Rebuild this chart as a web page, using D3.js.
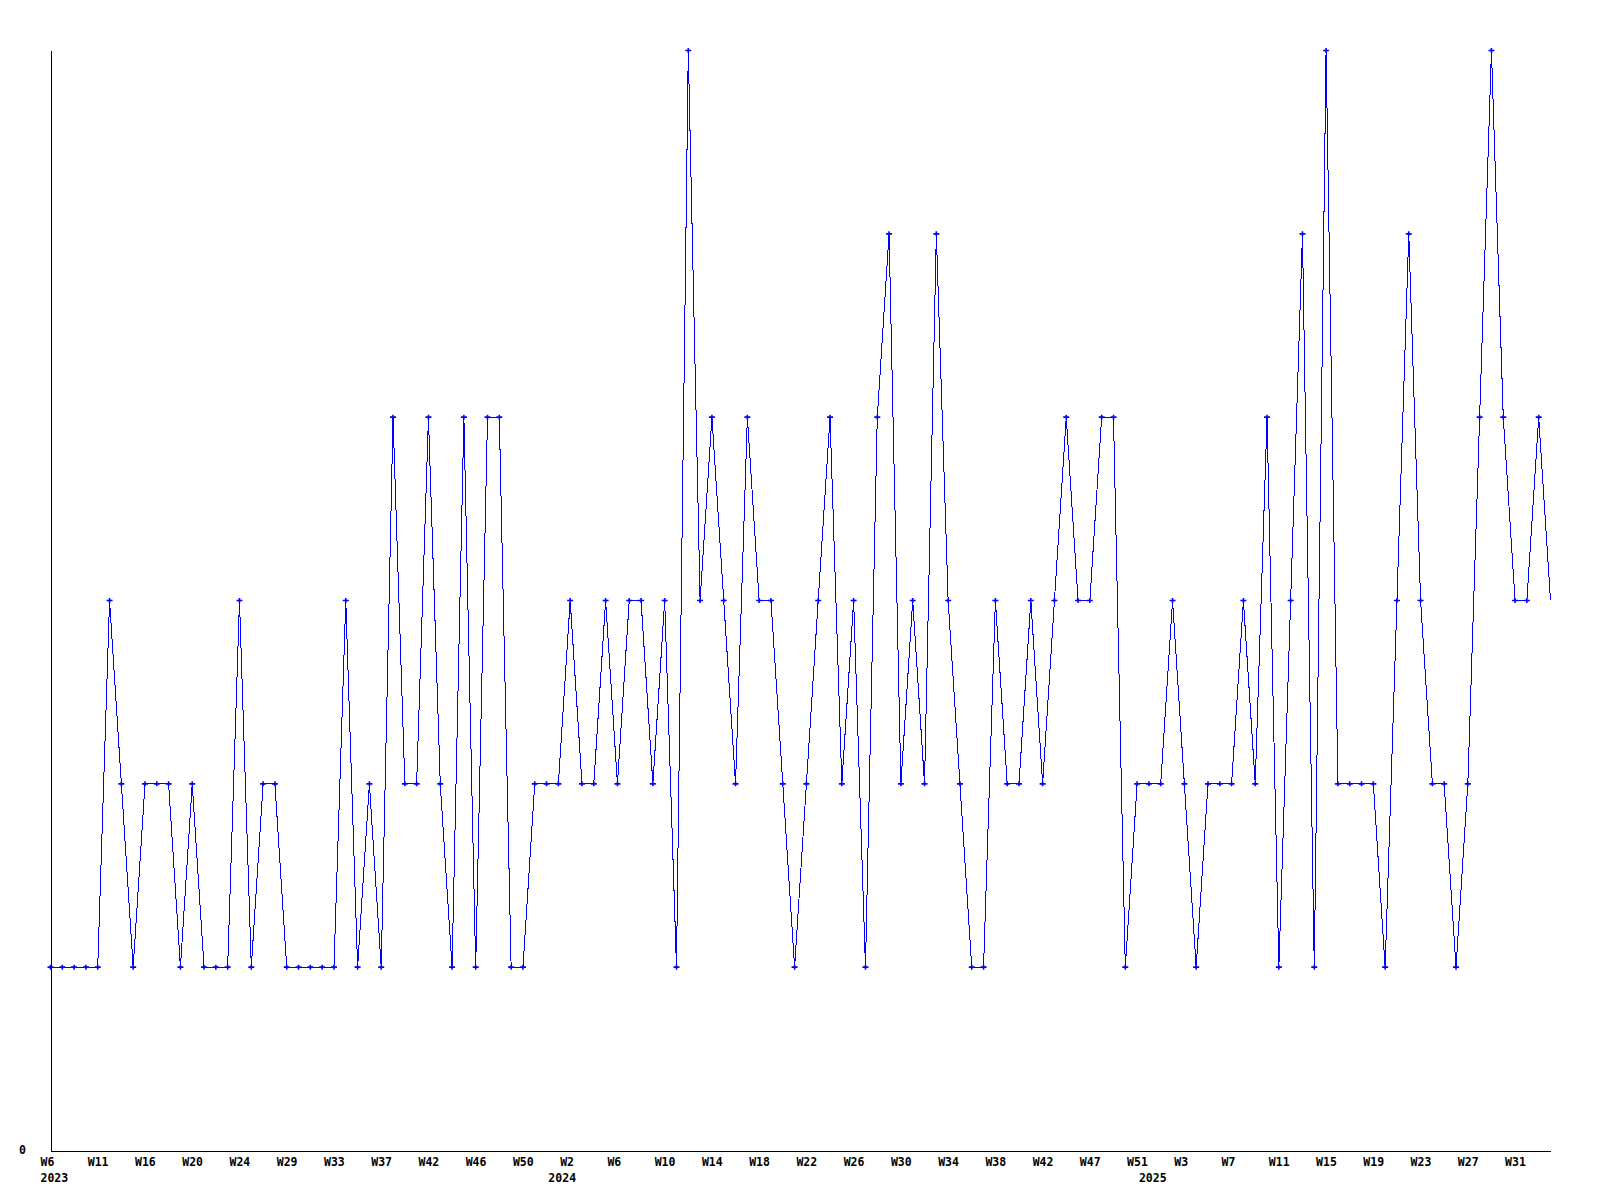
<!DOCTYPE html>
<html>
<head>
<meta charset="utf-8">
<script src="https://cdn.jsdelivr.net/npm/d3@7"></script>
<style>
  html, body { margin: 0; padding: 0; background: #fff; }
  svg { display: block; }
  text { font-family: "DejaVu Sans Mono", "Liberation Mono", monospace; font-weight: bold; font-size: 11.5px; fill: #000; }
</style>
</head>
<body>
<svg id="chart" width="1600" height="1200"></svg>
<script>
// Weekly counts, one per plotted point (2023 W6 ... 2025 W34)
const values = [
  1,1,1,1,1,3,2,1,2,2,2,1,2,1,1,1,3,1,2,2,1,1,1,1,1,3,1,2,1,4,2,2,4,2,1,4,1,4,4,1,
  1,2,2,2,3,2,2,3,2,3,3,2,3,1,6,3,4,3,2,4,3,3,2,1,2,3,4,2,3,1,4,5,2,3,2,5,3,2,1,1,
  3,2,2,3,2,3,4,3,3,4,4,1,2,2,2,3,2,1,2,2,2,3,2,4,1,3,5,1,6,2,2,2,2,1,3,5,3,2,2,1,
  2,4,6,4,3,3,4,3
];
// Week tick labels (point index -> label)
const tickPoints = [0,4,8,12,16,20,24,28,32,36,40,44,48,52,56,60,64,68,72,76,80,84,88,92,96,100,104,108,112,116,120,124];
const tickLabels = ["W6","W11","W16","W20","W24","W29","W33","W37","W42","W46","W50",
                    "W2","W6","W10","W14","W18","W22","W26","W30","W34","W38","W42","W47",
                    "W51","W3","W7","W11","W15","W19","W23","W27","W31"];
// Year labels
const yearPoints = [0, 43, 93];
const yearLabels = ["2023", "2024", "2025"];
// Y axis ticks
const yTicks = [0];

const svg = d3.select("#chart");
const x = d3.scaleLinear().domain([0, values.length - 1]).range([50.5, 1550.5]);
const y = d3.scaleLinear().domain([0, 6]).range([1150.5, 50.5]);

// clip for plot
svg.append("defs").append("clipPath").attr("id", "clip")
  .append("rect").attr("x", 45).attr("y", 40).attr("width", 1506).attr("height", 1115);

// Y axis
const yAxis = svg.append("g").attr("transform", "translate(50,0)")
  .call(d3.axisLeft(y).tickValues(yTicks).tickSize(0).tickSizeOuter(0).tickPadding(24).tickFormat(d3.format("d")));
yAxis.select(".domain").attr("stroke", "#000").attr("stroke-width", 1).attr("shape-rendering", "crispEdges")
  .attr("transform", "translate(0.5,0)");
yAxis.selectAll("text").attr("dy", "0.25em");

// X axis
const xAxis = svg.append("g").attr("transform", "translate(0,1150)")
  .call(d3.axisBottom(x).tickValues(tickPoints).tickSize(0).tickSizeOuter(0).tickPadding(8)
    .tickFormat((d, i) => tickLabels[i]));
xAxis.select(".domain").attr("stroke", "#000").attr("stroke-width", 1).attr("shape-rendering", "crispEdges")
  .attr("transform", "translate(0,0.5)");
xAxis.selectAll("text").attr("text-anchor", "start").attr("dx", -10.5).attr("dy", "0.71em");

// Year labels
const yearAxis = svg.append("g").attr("transform", "translate(0,1150)")
  .call(d3.axisBottom(x).tickValues(yearPoints).tickSize(0).tickSizeOuter(0).tickPadding(24)
    .tickFormat((d, i) => yearLabels[i]));
yearAxis.select(".domain").remove();
yearAxis.selectAll("text").attr("text-anchor", "start").attr("dx", -10.5).attr("dy", "0.71em");

// Line
const line = d3.line().x((d, i) => x(i)).y(d => y(d));
const plot = svg.append("g").attr("clip-path", "url(#clip)");
plot.append("path").datum(values)
  .attr("d", line)
  .attr("fill", "none")
  .attr("stroke", "#0000ff")
  .attr("stroke-width", 1)
  .attr("shape-rendering", "crispEdges");

// Markers (small crosses)
plot.selectAll("path.mk").data(values.slice(0, values.length - 1)).enter().append("path")
  .attr("class", "mk")
  .attr("transform", (d, i) => `translate(${x(i)},${y(d)})`)
  .attr("d", "M-3,0H3M0,-2.5V2.5")
  .attr("stroke", "#0000ff")
  .attr("stroke-width", 1.6)
  .attr("fill", "none");
</script>
</body>
</html>
